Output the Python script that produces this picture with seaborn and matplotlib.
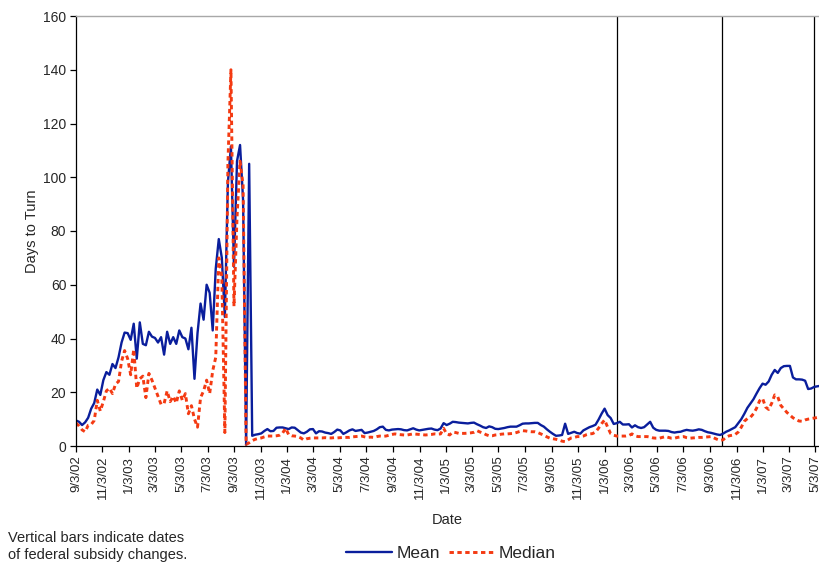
import matplotlib
matplotlib.use("Agg")
import matplotlib.pyplot as plt
import numpy as np
import pandas as pd
import seaborn as sns

# Weekly observations starting 9/3/2002
start_date = "2002-09-03"
n_weeks = 247

mean_days = [
    9.5, 9.0, 7.8, 8.8, 10.5, 13.9, 16.0, 21.0, 19.0, 24.5,
    27.5, 26.5, 30.5, 29.0, 33.0, 38.5, 42.2, 42.0, 39.5, 45.5,
    32.5, 46.0, 38.0, 37.5, 42.5, 40.7, 40.2, 38.5, 40.5, 34.0,
    42.5, 38.0, 40.5, 38.0, 43.0, 40.5, 40.0, 36.0, 44.0, 25.0,
    42.0, 53.0, 47.0, 60.0, 57.0, 43.0, 66.0, 77.0, 70.0, 48.0,
    98.0, 111.5, 66.7, 106.0, 112.0, 91.5, 0.5, 105.0, 3.8, 4.2,
    4.4, 4.7, 5.6, 6.3, 5.5, 5.6, 6.8, 6.9, 6.9, 6.6,
    6.3, 6.9, 6.8, 5.9, 5.0, 4.7, 5.3, 6.2, 6.3, 4.7,
    5.5, 5.4, 5.0, 4.8, 4.5, 5.2, 6.1, 5.8, 4.5, 5.1,
    5.8, 6.2, 5.6, 5.8, 6.0, 4.8, 5.0, 5.3, 5.6, 6.2,
    7.0, 7.2, 6.0, 5.8, 6.1, 6.2, 6.3, 6.2, 5.9, 5.8,
    6.2, 6.6, 6.1, 5.8, 6.0, 6.2, 6.4, 6.5, 6.1, 5.9,
    6.5, 8.5, 7.8, 8.3, 9.0, 8.9, 8.7, 8.6, 8.5, 8.4,
    8.6, 8.7, 8.1, 7.6, 7.0, 6.7, 7.3, 7.0, 6.4, 6.3,
    6.5, 6.7, 7.0, 7.2, 7.2, 7.2, 7.7, 8.3, 8.4, 8.4,
    8.5, 8.6, 8.6, 7.8, 7.2, 6.2, 5.3, 4.5, 3.8, 3.9,
    4.1, 8.3, 4.5, 4.9, 5.3, 4.8, 4.6, 5.8, 6.4, 7.0,
    7.4, 7.9, 9.8, 12.0, 13.9, 11.5, 10.4, 8.2, 8.5, 9.0,
    8.0, 8.0, 8.1, 6.9, 7.7, 7.0, 6.7, 7.0, 8.0, 9.0,
    6.8, 6.0, 5.7, 5.7, 5.7, 5.6, 5.2, 5.0, 5.2, 5.3,
    5.7, 6.0, 5.8, 5.7, 5.9, 6.2, 6.0, 5.5, 5.1, 4.9,
    4.6, 4.3, 4.1, 4.6, 5.3, 5.8, 6.4, 7.0, 8.5, 10.0,
    12.0, 14.2, 15.8, 17.4, 19.5, 21.5, 23.2, 22.8, 24.0, 26.5,
    28.3, 27.2, 29.0, 29.7, 29.8, 29.8, 25.5, 24.8, 24.8, 24.7,
    24.3, 21.2, 21.4, 22.0, 22.2, 22.4, 22.5,
]

median_days = [
    8.5, 7.5, 6.0, 5.3, 7.7, 8.0, 9.5, 17.0, 13.0, 16.5,
    20.5, 21.5, 19.5, 23.0, 24.0, 31.5, 35.5, 32.5, 26.5, 36.0,
    21.5, 25.0, 26.0, 18.0, 27.0, 24.5, 21.5, 18.5, 15.5, 15.8,
    20.5, 16.5, 18.5, 16.0, 20.5, 17.0, 19.5, 12.0, 15.0, 10.0,
    7.0, 18.0, 20.5, 24.5, 19.5, 28.0, 33.0, 70.0, 63.0, 5.0,
    105.0, 140.0, 52.0, 85.0, 106.0, 97.0, 0.6, 1.2, 2.0, 2.5,
    2.8, 3.0, 3.4, 3.7, 3.7, 3.7, 3.8, 4.0, 4.8, 6.6,
    4.2, 3.8, 3.7, 3.5, 3.0, 2.2, 2.7, 2.9, 3.0, 3.0,
    3.0, 3.0, 3.1, 3.0, 3.0, 3.1, 3.0, 3.1, 3.2, 3.2,
    3.2, 3.4, 3.5, 3.6, 3.7, 3.4, 3.2, 3.3, 3.2, 3.5,
    3.7, 3.6, 3.7, 4.0, 4.3, 4.5, 4.3, 4.2, 4.1, 4.1,
    4.3, 4.5, 4.4, 4.3, 4.2, 4.1, 4.2, 4.3, 4.5, 4.4,
    4.5, 6.6, 4.5, 4.1, 5.2, 5.0, 4.7, 4.7, 4.7, 4.8,
    4.9, 5.1, 5.7, 5.2, 4.8, 4.2, 3.8, 3.8, 4.1, 4.2,
    4.4, 4.5, 4.5, 4.6, 4.7, 5.0, 5.4, 5.7, 5.6, 5.4,
    5.3, 5.3, 5.0, 4.5, 4.0, 3.4, 2.9, 2.7, 2.5, 2.2,
    1.8, 1.6, 2.3, 3.0, 3.2, 3.5, 3.5, 3.7, 4.2, 4.5,
    4.6, 5.2, 6.6, 8.3, 9.7, 7.0, 4.6, 4.0, 3.7, 3.7,
    3.7, 3.7, 3.9, 4.5, 3.8, 3.5, 3.5, 3.5, 3.5, 3.3,
    3.0, 2.9, 2.9, 3.2, 3.5, 3.2, 2.9, 2.9, 3.2, 3.4,
    3.5, 3.1, 2.9, 3.0, 3.1, 3.2, 3.2, 3.3, 3.4, 3.5,
    3.0, 2.5, 2.1, 2.3, 3.3, 3.8, 4.0, 4.3, 5.2, 7.0,
    9.2, 10.2, 10.7, 12.0, 14.0, 16.8, 17.7, 14.5, 13.6, 15.9,
    19.0, 18.3, 15.1, 13.8, 12.5, 11.5, 10.5, 9.9, 9.3, 9.2,
    9.7, 10.0, 10.2, 10.4, 10.6, 10.7, 10.8,
]

# Dates of federal subsidy changes
subsidy_changes = ["2006-02-01", "2006-10-01", "2007-05-01"]

# Axis tick dates: the 3rd of every other month
tick_dates = pd.date_range("2002-09-01", "2007-05-01", freq="2MS") + pd.Timedelta(days=2)
y_ticks = [0, 20, 40, 60, 80, 100, 120, 140, 160]

dates = pd.date_range(start_date, periods=n_weeks, freq="7D")
df = pd.DataFrame({"date": dates, "Mean": mean_days, "Median": median_days})

sns.set_style("ticks")
plt.rcParams["font.family"] = ["Liberation Sans", "DejaVu Sans"]

fig = plt.figure(figsize=(8.19, 5.68), dpi=100)
ax = fig.add_axes([76 / 819, 122 / 568, 743 / 819, 430 / 568])

blue = "#0A1E9C"
red = "#F43A12"

sns.lineplot(data=df, x="date", y="Mean", ax=ax, color=blue, linewidth=1.7,
             label="Mean", legend=False)
sns.lineplot(data=df, x="date", y="Median", ax=ax, color=red, linewidth=2.1,
             label="Median", legend=False)
ax.lines[1].set_linestyle((0, (1.5, 1.2)))

for d in subsidy_changes:
    ax.axvline(pd.Timestamp(d), color="black", linewidth=0.9, zorder=1)

ax.set_xlim(pd.Timestamp("2002-09-03"), pd.Timestamp("2007-05-12"))
ax.set_ylim(0, 160)
ax.set_yticks(y_ticks)
ax.set_yticklabels([str(v) for v in y_ticks], fontsize=10)
ax.set_xticks(tick_dates)
ax.set_xticklabels([f"{d.month}/{d.day}/{d.year % 100:02d}" for d in tick_dates],
                   rotation=90, fontsize=9.5)
ax.tick_params(axis="both", direction="out", length=4, width=0.9, color="black", pad=3)

ax.set_xlabel("Date", fontsize=10.5, labelpad=10)
ax.set_ylabel("Days to Turn", fontsize=10.5, labelpad=3)

for side in ("left", "bottom"):
    ax.spines[side].set_color("black")
    ax.spines[side].set_linewidth(0.9)
ax.spines["top"].set_visible(True)
ax.spines["top"].set_color("#A8A8A8")
ax.spines["top"].set_linewidth(1.0)
ax.spines["right"].set_visible(False)

handles = ax.get_lines()[:2]
fig.legend(handles, ["Mean", "Median"], loc="center", bbox_to_anchor=(451 / 819, 15 / 568),
           ncol=2, frameon=False, fontsize=12.5, handlelength=2.65, handletextpad=0.25,
           columnspacing=0.5)

fig.text(8 / 819, 1 - 531 / 568, "Vertical bars indicate dates\nof federal subsidy changes.",
         ha="left", va="top", fontsize=10.5, linespacing=1.3)

fig.savefig("out.png", dpi=100)
